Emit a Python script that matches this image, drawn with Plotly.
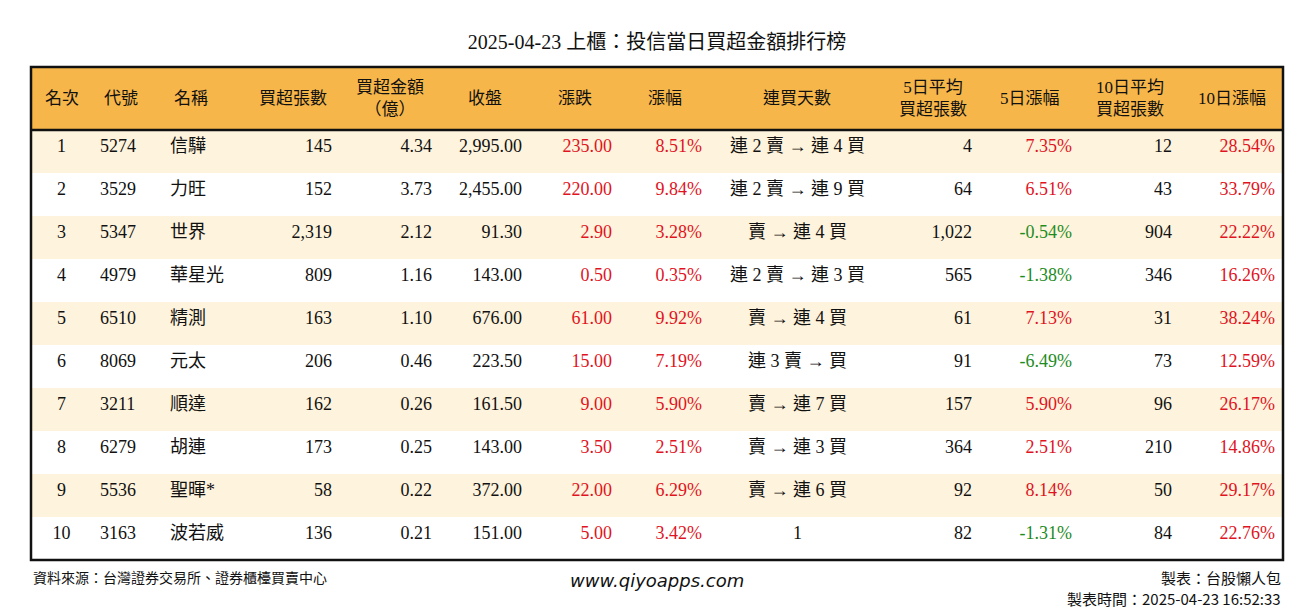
import plotly.graph_objects as go

ranks = ["1","2","3","4","5","6","7","8","9","10"]
codes = ["5274","3529","5347","4979","6510","8069","3211","6279","5536","3163"]
names = ["信驊","力旺","世界","華星光","精測","元太","順達","胡連","聖暉*","波若威"]
buy_lots = ["145","152","2,319","809","163","206","162","173","58","136"]
buy_amt = ["4.34","3.73","2.12","1.16","1.10","0.46","0.26","0.25","0.22","0.21"]
close = ["2,995.00","2,455.00","91.30","143.00","676.00","223.50","161.50","143.00","372.00","151.00"]
chg = ["235.00","220.00","2.90","0.50","61.00","15.00","9.00","3.50","22.00","5.00"]
pct = ["8.51%","9.84%","3.28%","0.35%","9.92%","7.19%","5.90%","2.51%","6.29%","3.42%"]
streak = ["連 2 賣 → 連 4 買","連 2 賣 → 連 9 買","賣 → 連 4 買","連 2 賣 → 連 3 買","賣 → 連 4 買",
          "連 3 賣 → 買","賣 → 連 7 買","賣 → 連 3 買","賣 → 連 6 買","1"]
avg5 = ["4","64","1,022","565","61","91","157","364","92","82"]
pct5 = ["7.35%","6.51%","-0.54%","-1.38%","7.13%","-6.49%","5.90%","2.51%","8.14%","-1.31%"]
avg10 = ["12","43","904","346","31","73","96","210","50","84"]
pct10 = ["28.54%","33.79%","22.22%","16.26%","38.24%","12.59%","26.17%","14.86%","29.17%","22.76%"]
headers = ["名次","代號","名稱","買超張數","買超金額<br>（億）","收盤","漲跌","漲幅","連買天數",
           "5日平均<br>買超張數","5日漲幅","10日平均<br>買超張數","10日漲幅"]

RED = "#E0141E"; GREEN = "#1E8C1E"; BLK = "#111111"
ORANGE = "#F6B64A"; CREAM = "#FEF3DC"; WHITE = "#FFFFFF"
FONT = "Liberation Serif, Noto Sans CJK TC"

def col_color(vals):
    return [GREEN if v.startswith("-") else RED for v in vals]

cols = [ranks, codes, names, buy_lots, buy_amt, close, chg, pct, streak, avg5, pct5, avg10, pct10]
n = len(ranks)
fonts = [[BLK]*n]*6 + [col_color(chg), col_color(pct), [BLK]*n, [BLK]*n, col_color(pct5), [BLK]*n, col_color(pct10)]
align = ["center","left","left","right","right","right","right","right","center","right","right","right","right"]
widths = [61,70,83,95,100,90,90,90,175,95,100,100,103]
rowfill = [CREAM if i % 2 == 0 else WHITE for i in range(n)]

fig = go.Figure(go.Table(
    columnwidth=widths,
    header=dict(values=[""]*13, fill_color=ORANGE, line=dict(color=ORANGE, width=1), height=63),
    cells=dict(values=cols, fill_color=[rowfill]*13, line=dict(color=[rowfill]*13, width=1),
               align=align, height=43,
               font=dict(family=FONT, size=18, color=fonts)),
))
H = 493
W = sum(widths)
anns = []
acc = 0
hx = []
for i, w in enumerate(widths):
    if i == 1:
        x, xa = (acc + 10) / W, "left"
    elif i == 2:
        x, xa = (acc + 10) / W, "left"
    else:
        x, xa = (acc + w / 2) / W, "center"
    anns.append(dict(text=headers[i], xref="paper", yref="paper", x=x, y=1 - 31.5 / H,
                     xanchor=xa, yanchor="middle", showarrow=False,
                     font=dict(family=FONT, size=17, color=BLK)))
    acc += w
anns += [
    dict(text="資料來源：台灣證券交易所、證券櫃檯買賣中心", xref="paper", yref="paper", x=0, y=-17/H,
         xanchor="left", yanchor="middle", showarrow=False, font=dict(size=14, color=BLK, family="Noto Sans CJK TC")),
    dict(text="<i>www.qiyoapps.com</i>", xref="paper", yref="paper", x=0.5, y=-20/H,
         xanchor="center", yanchor="middle", showarrow=False, font=dict(size=18, color=BLK, family="DejaVu Sans")),
    dict(text="製表：台股懶人包", xref="paper", yref="paper", x=1, y=-17/H,
         xanchor="right", yanchor="middle", showarrow=False, font=dict(size=15, color=BLK, family="Noto Sans CJK TC")),
    dict(text="製表時間：2025-04-23 16:52:33", xref="paper", yref="paper", x=1, y=-38/H,
         xanchor="right", yanchor="middle", showarrow=False, font=dict(size=15, color=BLK, family="Noto Sans CJK TC")),
]
fig.update_layout(
    width=1314, height=612, paper_bgcolor="white",
    margin=dict(l=23, r=39, t=59, b=60),
    title=dict(text="2025-04-23 上櫃：投信當日買超金額排行榜", x=(23 + 626) / 1314, y=1 - 34 / 612,
               xanchor="center", yanchor="middle",
               font=dict(family=FONT, size=20, color=BLK)),
    shapes=[
        dict(type="rect", xref="paper", yref="paper", x0=0, x1=1, y0=0, y1=1, line=dict(color=BLK, width=2.5)),
        dict(type="line", xref="paper", yref="paper", x0=0, x1=1, y0=1-63/H, y1=1-63/H, line=dict(color=BLK, width=2.5)),
    ],
    annotations=anns,
)
fig.write_html("out.html")
